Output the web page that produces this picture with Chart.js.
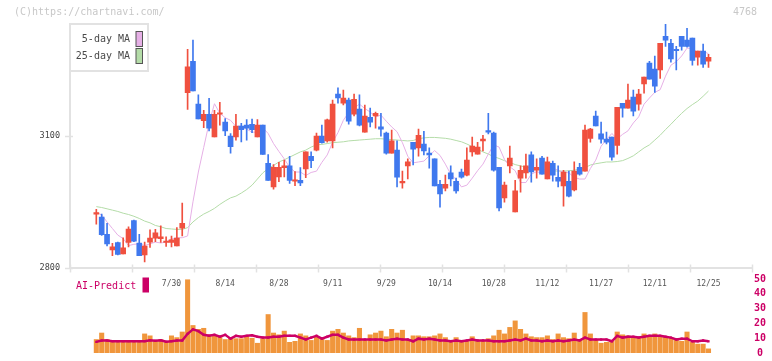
<!DOCTYPE html>
<html>
<head>
<meta charset="utf-8">
<script src="https://cdn.jsdelivr.net/npm/chart.js@4.4.1/dist/chart.umd.min.js"></script>
<style>
  body { margin: 0; background: #fff; }
  #wrap { position: relative; width: 772px; height: 361px; }
  #wrap canvas { position: absolute; left: 0; top: 0; }
</style>
</head>
<body>
<div id="wrap">
  <canvas id="priceChart" width="772" height="300"></canvas>
  <canvas id="volChart" width="772" height="361"></canvas>
</div>
<script>
// daily candles, 7/9 .. 12/25
const openP = [
  2922, 2915, 2876, 2840, 2857, 2831, 2857, 2907, 2856, 2829,
  2858, 2867, 2866, 2857, 2857, 2849, 2890, 3199, 3271, 3173,
  3135, 3150, 3098, 3150, 3132, 3100, 3098, 3123, 3125, 3127,
  3098, 3125, 3038, 2984, 3007, 3028, 3032, 2997, 2999, 3025,
  3054, 3068, 3100, 3089, 3089, 3196, 3175, 3182, 3150, 3162,
  3109, 3143, 3146, 3121, 3107, 3061, 3068, 2993, 3032, 3086,
  3073, 3082, 3061, 3048, 2990, 2981, 3016, 2997, 3018, 3011,
  3064, 3059, 3089, 3111, 3107, 3029, 2959, 3032, 2927, 3004,
  3016, 3057, 3022, 3050, 3002, 3038, 3006, 2986, 2997, 2977,
  3029, 3020, 3095, 3146, 3105, 3093, 3098, 3079, 3175, 3164,
  3189, 3173, 3219, 3267, 3253, 3251, 3328, 3312, 3297, 3328,
  3319, 3324, 3280, 3294, 3271
];
const highP = [
  2933, 2922, 2901, 2855, 2858, 2868, 2893, 2908, 2876, 2858,
  2886, 2887, 2895, 2870, 2872, 2891, 2947, 3298, 3319, 3194,
  3159, 3186, 3159, 3177, 3140, 3106, 3150, 3129, 3138, 3139,
  3138, 3125, 3058, 3035, 3040, 3045, 3054, 3019, 3028, 3064,
  3064, 3107, 3125, 3139, 3182, 3210, 3205, 3187, 3196, 3194,
  3171, 3164, 3155, 3152, 3109, 3114, 3089, 3020, 3048, 3086,
  3116, 3111, 3073, 3048, 2999, 3011, 3032, 3004, 3025, 3073,
  3098, 3086, 3102, 3152, 3109, 3029, 2995, 3077, 2999, 3032,
  3059, 3064, 3048, 3054, 3052, 3043, 3032, 3022, 3020, 3041,
  3038, 3125, 3118, 3157, 3132, 3109, 3098, 3166, 3175, 3219,
  3205, 3207, 3235, 3271, 3283, 3312, 3356, 3321, 3305, 3328,
  3346, 3324, 3294, 3310, 3287
];
const lowP = [
  2899, 2873, 2849, 2827, 2829, 2831, 2847, 2859, 2827, 2813,
  2846, 2859, 2857, 2848, 2847, 2849, 2872, 3161, 3203, 3139,
  3119, 3112, 3098, 3125, 3101, 3061, 3091, 3087, 3091, 3108,
  3098, 3058, 2999, 2979, 2996, 3007, 2992, 2987, 2987, 3005,
  3028, 3066, 3084, 3086, 3073, 3175, 3171, 3127, 3146, 3123,
  3109, 3121, 3118, 3100, 3059, 3061, 2984, 2981, 3002, 3034,
  3054, 3057, 3027, 2986, 2938, 2975, 2986, 2970, 3004, 3009,
  3054, 3059, 3066, 3105, 3020, 2929, 2949, 3016, 2927, 2972,
  3004, 2995, 3004, 3013, 3002, 2997, 2984, 2940, 2961, 2975,
  3011, 3020, 3086, 3123, 3084, 3082, 3045, 3059, 3143, 3164,
  3146, 3159, 3198, 3230, 3200, 3232, 3305, 3269, 3251, 3296,
  3303, 3262, 3262, 3257, 3257
];
const closeP = [
  2924, 2875, 2854, 2847, 2830, 2845, 2888, 2860, 2827, 2849,
  2867, 2879, 2870, 2859, 2863, 2867, 2901, 3258, 3203, 3139,
  3150, 3118, 3150, 3152, 3112, 3076, 3123, 3115, 3118, 3115,
  3125, 3058, 2999, 3029, 3029, 3032, 2999, 2999, 2993, 3064,
  3044, 3100, 3085, 3137, 3173, 3187, 3187, 3134, 3184, 3125,
  3146, 3132, 3152, 3116, 3061, 3089, 3006, 2997, 3041, 3070,
  3102, 3066, 3057, 2986, 2968, 2990, 3002, 2975, 3006, 3045,
  3077, 3075, 3093, 3109, 3022, 2936, 2988, 3050, 2975, 3022,
  3032, 3018, 3029, 3013, 3041, 3011, 2997, 3018, 2963, 3020,
  3013, 3114, 3116, 3123, 3093, 3086, 3052, 3166, 3164, 3182,
  3157, 3196, 3235, 3230, 3214, 3312, 3319, 3276, 3295, 3305,
  3305, 3273, 3294, 3264, 3280
];
const ma5 = [
  2926, 2920, 2904, 2889, 2874, 2866, 2850, 2853, 2854, 2850,
  2854, 2858, 2856, 2858, 2865, 2868, 2868, 2872, 2950, 3018,
  3074, 3130, 3174, 3152, 3142, 3136, 3122, 3123, 3116, 3109,
  3109, 3119, 3106, 3083, 3065, 3048, 3029, 3018, 3018, 3010,
  3017, 3020, 3040, 3057, 3086, 3108, 3136, 3154, 3164, 3173,
  3163, 3155, 3144, 3148, 3134, 3121, 3110, 3085, 3054, 3039,
  3041, 3043, 3055, 3067, 3056, 3036, 3013, 3001, 2984, 2988,
  3004, 3021, 3036, 3059, 3080, 3075, 3047, 3030, 3021, 2994,
  2994, 3013, 3019, 3015, 3023, 3027, 3022, 3018, 3016, 3006,
  3002, 3002, 3026, 3045, 3077, 3092, 3106, 3094, 3104, 3112,
  3130, 3144, 3173, 3187, 3200, 3206, 3237, 3262, 3270, 3283,
  3301, 3300, 3291, 3294, 3288
];
const ma25 = [
  2939, 2937, 2934, 2931, 2928, 2924, 2921, 2917, 2912, 2906,
  2902, 2896, 2893, 2889, 2888, 2887, 2887, 2891, 2904, 2914,
  2922, 2928, 2935, 2944, 2952, 2959, 2963, 2970, 2978, 2988,
  3002, 3016, 3026, 3033, 3041, 3046, 3052, 3058, 3064, 3068,
  3075, 3080, 3081, 3083, 3085, 3086, 3087, 3089, 3090, 3091,
  3092, 3093, 3094, 3094, 3093, 3092, 3091, 3090, 3089, 3090,
  3094, 3096, 3097, 3097, 3096, 3095, 3093, 3090, 3087, 3082,
  3076, 3070, 3064, 3059, 3053, 3049, 3044, 3040, 3035, 3032,
  3029, 3027, 3025, 3024, 3022, 3021, 3020, 3020, 3021, 3022,
  3025, 3028, 3034, 3037, 3039, 3041, 3041, 3042, 3044, 3049,
  3055, 3064, 3073, 3080, 3091, 3102, 3115, 3127, 3140, 3152,
  3163, 3172, 3180, 3191, 3203
];
const volume = [
  9.1, 13.5, 9.1, 7.9, 7.2, 7.9, 7.9, 7.9, 7.9, 12.9,
  11.6, 7.9, 9.1, 7.9, 11.6, 10.4, 14.2, 49.5, 18.6, 16.0,
  16.7, 12.3, 11.6, 11.0, 9.1, 10.4, 9.7, 9.7, 11.6, 10.0,
  6.6, 9.7, 26.0, 13.5, 12.3, 14.8, 7.2, 7.9, 12.9, 11.6,
  8.5, 11.0, 10.4, 8.5, 14.8, 16.0, 13.5, 11.6, 10.4, 16.7,
  9.1, 12.3, 13.5, 14.8, 11.0, 16.0, 13.5, 15.4, 9.1, 11.6,
  11.6, 11.0, 11.0, 11.6, 12.9, 10.4, 8.5, 10.4, 8.5, 7.9,
  11.0, 8.5, 8.5, 9.7, 11.6, 15.4, 12.9, 17.3, 21.7, 16.0,
  12.9, 11.0, 10.4, 10.4, 11.6, 9.1, 12.9, 10.4, 9.7, 13.5,
  9.1, 27.4, 12.9, 9.1, 6.6, 7.2, 7.9, 14.2, 12.3, 11.6,
  11.0, 10.4, 12.9, 11.6, 12.9, 11.6, 11.0, 10.4, 9.7, 7.9,
  14.2, 7.2, 6.0, 6.0, 2.8
];
const aiPredict = [
  7.5, 8.4, 8.4, 8.0, 8.0, 8.0, 8.0, 8.0, 8.0, 8.0,
  8.6, 8.2, 8.6, 7.6, 8.0, 8.4, 8.4, 13.0, 16.0, 14.8,
  12.3, 11.6, 12.3, 11.0, 12.3, 9.7, 11.6, 11.0, 11.6, 12.0,
  11.0, 10.4, 10.4, 11.0, 11.0, 11.6, 11.6, 11.6, 10.4, 9.1,
  10.4, 11.6, 9.7, 11.0, 12.3, 12.3, 10.4, 9.1, 9.1, 9.1,
  9.1, 9.1, 9.1, 9.1, 8.5, 9.1, 9.7, 9.1, 9.1, 7.9,
  9.7, 9.1, 9.7, 9.1, 8.5, 8.5, 7.9, 8.5, 7.9, 8.5,
  9.1, 8.5, 8.5, 8.5, 7.9, 7.9, 7.9, 8.5, 9.1, 8.5,
  9.7, 8.5, 8.5, 7.9, 8.5, 7.9, 8.5, 7.9, 8.5, 9.1,
  8.5, 10.4, 9.1, 9.1, 9.1, 9.1, 7.9, 11.6, 10.4, 11.0,
  11.0, 10.4, 11.0, 11.6, 11.6, 11.6, 11.0, 10.4, 9.1, 9.7,
  9.7, 7.9, 7.9, 8.5, 7.9
];

const dateLabels = ["7/30", "8/14", "8/28", "9/11", "9/29", "10/14", "10/28", "11/12", "11/27", "12/11", "12/25"];
const dateIndex = [14, 24, 34, 44, 54, 64, 74, 84, 94, 104, 114];
const priceTicks = [2800, 3100];
const volTicks = [0, 10, 20, 30, 40, 50];
const legendNames = ["5-day MA", "25-day MA"];

const UP = "#f0503f", DOWN = "#3f78ee";
const MA5_COLOR = "#e6b0e6", MA25_COLOR = "#b4dca8";
const AXIS = "#e2e2e2";
const X_MIN = -4.9, X_MAX = 122.1; // blank slots around the candles

Chart.defaults.font.family = "'DejaVu Sans Mono', monospace";
Chart.defaults.animation = false;

let idx = closeP.map((c, i) => i);
let candleColors = idx.map(i => closeP[i] >= openP[i] ? UP : DOWN);

// short tick marks crossing the axis lines
const tickMarks = {
  id: "tickMarks",
  afterDraw(chart) {
    let ctx = chart.ctx, area = chart.chartArea;
    ctx.save();
    ctx.strokeStyle = AXIS;
    ctx.lineWidth = 1.5;
    chart.scales.x.ticks.forEach(t => {
      let px = Math.round(chart.scales.x.getPixelForValue(t.value)) + 0.5;
      ctx.beginPath(); ctx.moveTo(px, area.bottom - 3); ctx.lineTo(px, area.bottom + 5); ctx.stroke();
    });
    chart.scales.y.ticks.forEach(t => {
      let py = Math.round(chart.scales.y.getPixelForValue(t.value)) + 0.5;
      ctx.beginPath(); ctx.moveTo(area.left - 5, py); ctx.lineTo(area.left + 3, py); ctx.stroke();
    });
    ctx.restore();
  }
};

// watermark + MA legend box
const decorations = {
  id: "decorations",
  afterDraw(chart) {
    let ctx = chart.ctx;
    ctx.save();
    ctx.font = "10px 'DejaVu Sans Mono', monospace";
    ctx.textBaseline = "middle";
    ctx.fillStyle = "#c8c8c8";
    ctx.textAlign = "left";
    ctx.fillText("(C)https://chartnavi.com/", 14, 12.5);
    ctx.textAlign = "right";
    ctx.fillText("4768", 757, 12.5);

    ctx.fillStyle = "#fff";
    ctx.strokeStyle = AXIS;
    ctx.lineWidth = 2;
    ctx.fillRect(70, 24, 78, 47);
    ctx.strokeRect(70, 24, 78, 47);
    let swatch = [MA5_COLOR, MA25_COLOR];
    legendNames.forEach((name, k) => {
      let cy = 39.5 + k * 17;
      ctx.fillStyle = "#4a4a4a";
      ctx.textAlign = "right";
      ctx.fillText(name, 130, cy);
      ctx.fillStyle = swatch[k];
      ctx.fillRect(136, cy - 8, 6.5, 15);
      ctx.strokeStyle = "#555";
      ctx.lineWidth = 1;
      ctx.strokeRect(136, cy - 8, 6.5, 15);
    });
    ctx.restore();
  }
};

new Chart(document.getElementById("priceChart"), {
  type: "bar",
  data: {
    datasets: [
      {
        label: "body",
        data: idx.map(i => ({ x: i, y: [openP[i], closeP[i]] })),
        backgroundColor: candleColors,
        grouped: false,
        barPercentage: 1,
        categoryPercentage: 1,
        maxBarThickness: 5,
        minBarLength: 1.5,
        order: 0
      },
      {
        label: "wick",
        data: idx.map(i => ({ x: i, y: [lowP[i], highP[i]] })),
        backgroundColor: candleColors,
        grouped: false,
        barPercentage: 1,
        categoryPercentage: 1,
        maxBarThickness: 1,
        order: 1
      },
      {
        type: "line",
        label: legendNames[0],
        data: idx.map(i => ({ x: i, y: ma5[i] })),
        borderColor: MA5_COLOR,
        borderWidth: 1,
        pointRadius: 0,
        order: 2
      },
      {
        type: "line",
        label: legendNames[1],
        data: idx.map(i => ({ x: i, y: ma25[i] })),
        borderColor: MA25_COLOR,
        borderWidth: 1,
        pointRadius: 0,
        order: 3
      }
    ]
  },
  options: {
    responsive: false,
    layout: { padding: { left: 0, right: 20, top: 24, bottom: 0 } },
    plugins: { legend: { display: false }, tooltip: { enabled: false } },
    scales: {
      x: {
        type: "linear", min: X_MIN, max: X_MAX, offset: false,
        grid: { display: false },
        border: { display: true, color: AXIS, width: 2 },
        ticks: { display: false },
        afterBuildTicks: s => {
          let step = (X_MAX - X_MIN) / 11;
          s.ticks = Array.from({ length: 12 }, (_, k) => ({ value: X_MIN + k * step }));
        },
        afterFit: s => { s.height = 1.5; }
      },
      x2: {
        type: "linear", position: "bottom", min: X_MIN, max: X_MAX, offset: false,
        grid: { display: false },
        border: { display: false },
        ticks: {
          autoSkip: false, maxRotation: 0, padding: 2,
          color: "#555", font: { size: 8 },
          callback: (v, k) => dateLabels[k]
        },
        afterBuildTicks: s => { s.ticks = dateIndex.map(v => ({ value: v })); },
        afterFit: s => { s.height = 31; }
      },
      y: {
        min: 2800, max: 3356, beginAtZero: false,
        grid: { display: false, drawTicks: false },
        border: { display: true, color: AXIS, width: 2 },
        ticks: { color: "#444", font: { size: 8.5 }, padding: 10, callback: v => String(v) },
        afterBuildTicks: s => { s.ticks = priceTicks.map(v => ({ value: v })); },
        afterFit: s => { s.width = 70; }
      }
    }
  },
  plugins: [tickMarks, decorations]
});

// "AI-Predict" caption in the volume pane
const aiCaption = {
  id: "aiCaption",
  afterDraw(chart) {
    let ctx = chart.ctx;
    ctx.save();
    ctx.font = "10px 'DejaVu Sans Mono', monospace";
    ctx.textBaseline = "middle";
    ctx.textAlign = "left";
    ctx.fillStyle = "#cc0066";
    ctx.fillText("AI-Predict", 76, 286);
    ctx.fillRect(142.5, 277.5, 6.5, 15);
    ctx.restore();
  }
};

new Chart(document.getElementById("volChart"), {
  type: "bar",
  data: {
    datasets: [
      {
        type: "line",
        label: "AI-Predict",
        data: idx.map(i => ({ x: i, y: aiPredict[i] })),
        borderColor: "#cc0066",
        backgroundColor: "#cc0066",
        borderWidth: 2.5,
        pointStyle: "rect",
        pointRadius: 1.6,
        pointBorderWidth: 0,
        order: 0
      },
      {
        label: "volume",
        data: idx.map(i => ({ x: i, y: volume[i] })),
        backgroundColor: "#f0963c",
        grouped: false,
        barPercentage: 1,
        categoryPercentage: 1,
        maxBarThickness: 4.4,
        order: 1
      }
    ]
  },
  options: {
    responsive: false,
    layout: { padding: { left: 70, right: 0, top: 279, bottom: 2.5 } },
    plugins: { legend: { display: false }, tooltip: { enabled: false } },
    scales: {
      x: { type: "linear", min: X_MIN, max: X_MAX, offset: false, display: false },
      y: {
        position: "right", min: 0, max: 50,
        grid: { display: false, drawTicks: false },
        border: { display: false },
        ticks: { color: "#cc0066", font: { size: 10, weight: "bold" }, padding: 2, crossAlign: "center" },
        afterBuildTicks: s => { s.ticks = volTicks.map(v => ({ value: v })); },
        afterFit: s => { s.width = 20; }
      }
    }
  },
  plugins: [aiCaption]
});
</script>
</body>
</html>
